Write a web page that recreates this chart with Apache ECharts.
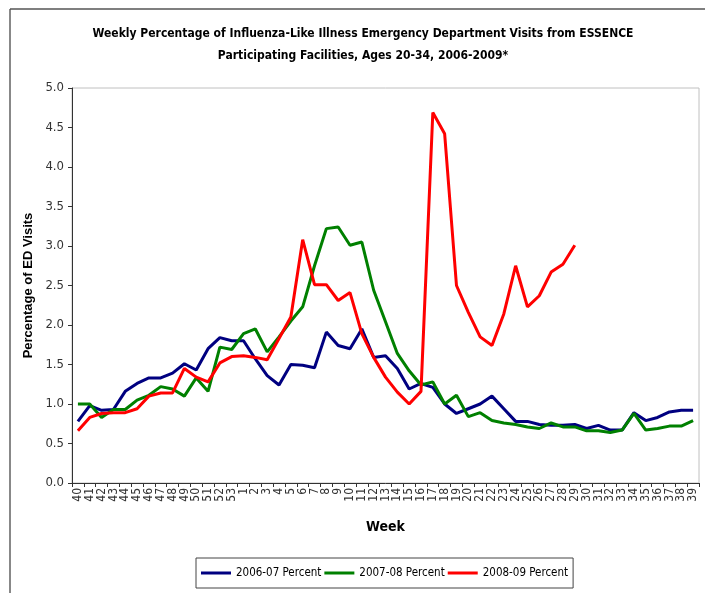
<!DOCTYPE html>
<html>
<head>
<meta charset="utf-8">
<script src="https://cdn.jsdelivr.net/npm/echarts@6/dist/echarts.min.js"></script>
<style>
  html,body{margin:0;padding:0;background:#fff;}
  #chart{width:705px;height:593px;}
</style>
</head>
<body>
<div id="chart"></div>
<script>
// weeks 40 (2006) .. 53, then 1 .. 39
var weeks = ['40','41','42','43','44','45','46','47','48','49','50','51','52','53',
  '1','2','3','4','5','6','7','8','9','10','11','12','13','14','15','16','17','18','19','20',
  '21','22','23','24','25','26','27','28','29','30','31','32','33','34','35','36','37','38','39'];

var s0607 = [0.78,0.98,0.92,0.93,1.16,1.26,1.33,1.33,1.39,1.51,1.43,1.70,1.84,1.80,
  1.80,1.57,1.36,1.24,1.50,1.49,1.46,1.91,1.74,1.70,1.95,1.59,1.61,1.45,1.19,1.26,1.21,1.00,0.88,0.94,
  1.00,1.10,0.94,0.78,0.78,0.74,0.73,0.73,0.74,0.69,0.73,0.67,0.67,0.89,0.79,0.83,0.90,0.92,0.92];

var s0708 = [1.00,1.00,0.83,0.93,0.93,1.05,1.11,1.22,1.19,1.10,1.33,1.16,1.72,1.69,
  1.89,1.95,1.66,1.85,2.05,2.23,2.75,3.22,3.24,3.01,3.05,2.44,2.04,1.64,1.42,1.24,1.28,1.00,1.11,0.84,
  0.89,0.79,0.76,0.74,0.71,0.69,0.76,0.71,0.71,0.66,0.66,0.64,0.67,0.88,0.67,0.69,0.72,0.72,0.79];

var s0809 = [0.66,0.83,0.88,0.89,0.89,0.94,1.10,1.14,1.14,1.45,1.34,1.28,1.52,1.60,
  1.61,1.59,1.56,1.83,2.10,3.08,2.51,2.51,2.31,2.41,1.89,1.59,1.34,1.15,1.00,1.16,4.69,4.42,2.50,2.16,
  1.85,1.74,2.14,2.75,2.23,2.37,2.67,2.77,3.01];

var seriesNames = ['2006-07 Percent','2007-08 Percent','2008-09 Percent'];
var colors = ['#000080','#008000','#ff0000'];

var narrow = '"DejaVu Sans Condensed", "Liberation Sans Narrow", Arial, sans-serif';

var chart = echarts.init(document.getElementById('chart'));
var option = {
  animation: false,
  color: colors,
  title: {
    text: 'Weekly Percentage of Influenza-Like Illness Emergency Department Visits from ESSENCE\nParticipating Facilities, Ages 20-34, 2006-2009*',
    left: 358,
    textAlign: 'center',
    top: 18,
    textStyle: {
      fontFamily: narrow,
      fontSize: 12,
      fontWeight: 'bold',
      color: '#000',
      lineHeight: 22
    }
  },
  grid: {
    left: 72,
    right: 6,
    top: 88,
    bottom: 110,
    show: true,
    borderColor: '#c0c0c0',
    borderWidth: 1
  },
  legend: {
    data: seriesNames,
    left: 196,
    top: 558,
    padding: [9, 5, 9, 5],
    borderColor: '#444',
    borderWidth: 1,
    icon: 'rect',
    itemWidth: 30,
    itemHeight: 3,
    itemGap: 3,
    textStyle: {fontFamily: narrow, fontSize: 11.5, color: '#000'}
  },
  xAxis: {
    type: 'category',
    data: weeks,
    boundaryGap: true,
    name: 'Week',
    nameLocation: 'middle',
    nameGap: 37,
    nameTextStyle: {fontFamily: narrow, fontSize: 14, fontWeight: 'bold', color: '#000'},
    axisLine: {lineStyle: {color: '#333'}},
    axisTick: {show: true, interval: 0, length: 4, lineStyle: {color: '#333'}},
    axisLabel: {
      interval: 0,
      rotate: 90,
      margin: 5,
      fontSize: 12,
      fontFamily: narrow,
      color: '#333'
    }
  },
  yAxis: {
    type: 'value',
    min: 0,
    max: 5,
    interval: 0.5,
    name: 'Percentage of ED Visits',
    nameLocation: 'middle',
    nameGap: 34,
    nameTextStyle: {fontFamily: 'Arial, "Liberation Sans", sans-serif', fontSize: 13, fontWeight: 'bold', color: '#000'},
    axisLine: {show: true, lineStyle: {color: '#333'}},
    axisTick: {show: true, length: 4, lineStyle: {color: '#333'}},
    splitLine: {show: false},
    axisLabel: {
      fontSize: 13,
      fontFamily: narrow,
      color: '#333',
      margin: 8,
      formatter: function (v) { return v.toFixed(1); }
    }
  },
  graphic: [
    {type: 'line', shape: {x1: 10, y1: 9, x2: 10, y2: 593}, style: {stroke: '#888', lineWidth: 2}},
    {type: 'line', shape: {x1: 10, y1: 9, x2: 705, y2: 9}, style: {stroke: '#555', lineWidth: 1.5}}
  ],
  series: [
    {name: seriesNames[0], type: 'line', data: s0607, showSymbol: false, lineStyle: {width: 3}},
    {name: seriesNames[1], type: 'line', data: s0708, showSymbol: false, lineStyle: {width: 3}},
    {name: seriesNames[2], type: 'line', data: s0809, showSymbol: false, lineStyle: {width: 3}}
  ]
};
chart.setOption(option);
</script>
</body>
</html>
